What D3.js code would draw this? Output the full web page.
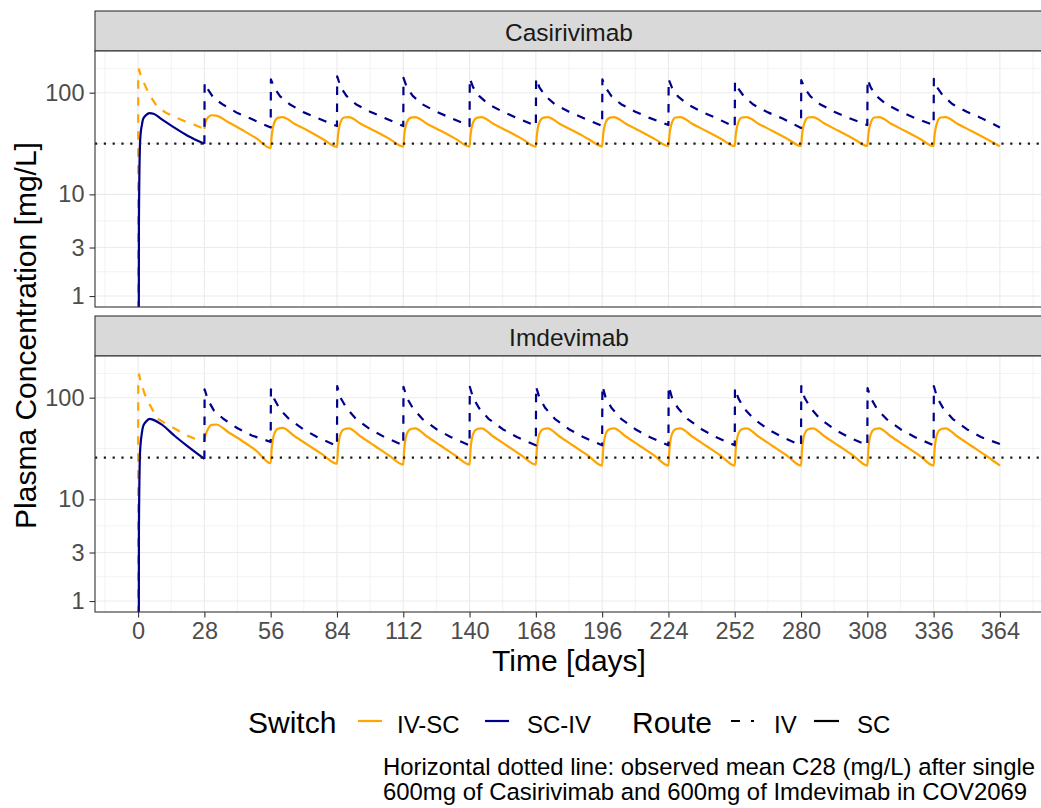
<!DOCTYPE html>
<html>
<head>
<meta charset="utf-8">
<script src="https://cdn.jsdelivr.net/npm/d3@7"></script>
<style>
  body { margin: 0; background: #fff; }
  svg { display: block; font-family: "Liberation Sans", Arial, sans-serif; }
</style>
</head>
<body>
<div class="chart-container"></div>
<script>
// ---- data ----
const panelNames = ['Casirivimab', 'Imdevimab']
const switchNames = ['IV-SC', 'SC-IV']
const routeNames = ['IV', 'SC']
const xTicks = [0, 28, 56, 84, 112, 140, 168, 196, 224, 252, 280, 308, 336, 364]
const yBreaks = [1, 3, 10, 100, 300]
const yLabels = [1, 3, 10, 100]
const c28 = [31.6, 25.7] // observed mean C28 (dotted line)

// dose days after the first dose and the last simulated day
const doseDays = [28, 56, 84, 112, 140, 168, 196, 224, 252, 280, 308, 336]
const lastDay = 364

// days after each repeat dose at which the curves were read
const ivOffsets = [0, 0.1, 1.5, 4, 8, 14, 20]
const scOffsets = [0, 0.4, 1.5, 3, 5, 10, 16, 22]

// first dose, days 0-28
const firstIVDays = [0, 0.05, 0.4, 1, 2.8, 4.5, 8, 12, 16, 20, 24, 28]
const casiFirstIV = [0.5, 150, 170, 150, 120, 98, 73, 63, 57, 52, 48, 44]
const imdeFirstIV = [0.5, 150, 170, 148, 108, 89, 63, 55, 49, 43, 39.5, 37.5]

const firstSCDays = [0.3, 0.35, 0.8, 1.1, 1.6, 2.1, 3.3, 4.9, 6.5, 9.9, 15.5, 21.1, 28]
const casiFirstSC = [0.3, 5.2, 31, 40, 48, 55, 60, 63, 62, 55, 45, 37.5, 31.5]
const imdeFirstSC = [0.3, 5, 28, 36, 45, 52, 58, 62, 60.5, 54.6, 42, 33, 25]

// repeat doses: one row per dose in doseDays
const casiIVRows = [
  [31.5, 125, 108, 88, 76, 63, 55],
  [45.5, 135, 112, 92, 77, 64, 56],
  [47, 145, 114, 93, 77, 65, 56.5],
  [47, 140, 113, 93, 77, 65, 56.5],
  [47, 138, 113, 93, 77, 65, 56.5],
  [47, 138, 113, 93, 77, 65, 56.5],
  [47, 135, 112, 92, 77, 65, 56.5],
  [48, 135, 112, 92, 77, 65, 56.5],
  [46, 128, 110, 91, 76, 64, 56],
  [45, 133, 111, 92, 77, 65, 56.5],
  [48, 135, 112, 92, 77, 65, 56.5],
  [48, 137, 113, 93, 77, 65, 56.5]
]
const casiIVEnd = 45.5

const casiSCRows = [
  [44, 50, 57, 60, 59.5, 51.5, 43, 35.5],
  [28.5, 37, 50.5, 56.5, 57.5, 49.5, 42, 35],
  [29.3, 37.5, 51, 57, 57.5, 49.5, 42, 35.3],
  [29.5, 38, 51, 56.5, 57.5, 49.5, 42, 35.3],
  [29.5, 38, 51, 56.5, 57.5, 49.5, 42, 35.3],
  [29.5, 38, 51, 56.5, 57.5, 49.5, 42, 35.3],
  [29.7, 38, 51, 56.5, 57.5, 49.5, 42, 35.3],
  [29.9, 38, 51, 57, 57.5, 49.5, 42, 35.5],
  [29.9, 38, 51, 57, 57.5, 49.5, 42, 35.5],
  [29.9, 38, 51, 57, 57.5, 49.5, 42, 35.5],
  [29.9, 38, 51, 57, 57.5, 49.5, 42, 35.5],
  [29.9, 38, 51, 57, 57.5, 49.5, 42, 35.5]
]
const casiSCEnd = 29.7

const imdeIVRows = [
  [25, 121, 95, 75, 62, 50, 42.5],
  [36.7, 121, 97, 76, 61, 48.5, 40.5],
  [33.5, 130, 100, 79, 62, 49, 41],
  [34, 128, 100, 79, 62, 49, 41],
  [34, 128, 100, 79, 62, 49, 41],
  [34, 128, 100, 79, 62, 49, 41],
  [34, 130, 100, 79, 62, 49, 41],
  [34, 130, 100, 79, 62, 49, 41],
  [34, 124, 99, 78, 62, 49, 41],
  [34, 130, 100, 79, 62, 49, 41],
  [34, 124, 99, 78, 62, 49, 41],
  [34, 130, 100, 79, 62, 49, 41]
]
const imdeIVEnd = 35

const imdeSCRows = [
  [37.5, 42, 49, 54, 54.5, 46, 37.5, 30],
  [22.7, 31, 44, 49.5, 50.5, 42, 34, 27.5],
  [22.4, 30.5, 44, 49, 50, 41.5, 33.5, 27],
  [22, 30.5, 44, 49, 50, 41.5, 33.5, 27],
  [22, 30.5, 44, 49, 50, 41.5, 33.5, 27],
  [22, 30.5, 44, 49, 50, 41.5, 33.5, 27],
  [21.5, 30.5, 44, 49, 50, 41.5, 33.5, 27],
  [21.5, 30.5, 44, 49, 50, 41.5, 33.5, 27],
  [21.5, 30.5, 44, 49, 50, 41.5, 33.5, 27],
  [21.5, 30.5, 44, 49, 50, 41.5, 33.5, 27],
  [21.5, 30.5, 44, 49, 50, 41.5, 33.5, 27],
  [21.5, 30.5, 44, 49, 50, 41.5, 33.5, 27]
]
const imdeSCEnd = 21.5

const captionLines = [
  'Horizontal dotted line: observed mean C28 (mg/L) after single',
  '600mg of Casirivimab and 600mg of Imdevimab in COV2069'
]

// ---- helpers ----
const zip = (days, vals) => days.map((d, i) => [d, vals[i]])

function cycleSeries(rows, offsets, endValue) {
  const pts = []
  rows.forEach((row, i) => row.forEach((v, j) => pts.push([doseDays[i] + offsets[j], v])))
  pts.push([lastDay, endValue])
  return pts
}

const panels = [
  { name: panelNames[0], c28: c28[0], lines: [
    { sw: 'IV-SC', route: 'IV', pts: zip(firstIVDays, casiFirstIV) },
    { sw: 'IV-SC', route: 'SC', pts: cycleSeries(casiSCRows, scOffsets, casiSCEnd) },
    { sw: 'SC-IV', route: 'SC', pts: zip(firstSCDays, casiFirstSC) },
    { sw: 'SC-IV', route: 'IV', pts: cycleSeries(casiIVRows, ivOffsets, casiIVEnd) }
  ]},
  { name: panelNames[1], c28: c28[1], lines: [
    { sw: 'IV-SC', route: 'IV', pts: zip(firstIVDays, imdeFirstIV) },
    { sw: 'IV-SC', route: 'SC', pts: cycleSeries(imdeSCRows, scOffsets, imdeSCEnd) },
    { sw: 'SC-IV', route: 'SC', pts: zip(firstSCDays, imdeFirstSC) },
    { sw: 'SC-IV', route: 'IV', pts: cycleSeries(imdeIVRows, ivOffsets, imdeIVEnd) }
  ]}
]

// ---- layout ----
const width = 1041, height = 808
const left = 95, right = 1043
const stripH = 40
const panelTops = [51, 356]
const panelH = 256
const lineW = 2.2
const dash = '8.5,8.5'

const colour = d3.scaleOrdinal().domain(switchNames).range(['#FFA500', '#00008B'])
const dashFor = d3.scaleOrdinal().domain(routeNames).range([dash, null])

const pad = (lastDay - 0) * 0.05
const x = d3.scaleLinear().domain([0 - pad, lastDay + pad]).range([left, right])

const xMinor = [xTicks[0] - 14].concat(xTicks.map(d => d + 14))
const yMinor = yBreaks.slice(1).map((b, i) => Math.sqrt(b * yBreaks[i]))

const svg = d3.select('.chart-container').append('svg')
  .attr('width', width).attr('height', height)

panels.forEach((p, pi) => {
  const top = panelTops[pi]
  const bottom = top + panelH
  const y = d3.scaleLog().domain([0.78, 257]).range([bottom, top])

  const g = svg.append('g')

  // strip
  g.append('rect')
    .attr('x', left).attr('y', top - stripH)
    .attr('width', right - left).attr('height', stripH)
    .attr('fill', '#D9D9D9').attr('stroke', '#333').attr('stroke-width', 1.1)
  g.append('text')
    .attr('x', (left + right) / 2).attr('y', top - stripH + 30)
    .attr('text-anchor', 'middle')
    .attr('font-size', 24.5).attr('fill', '#1A1A1A')
    .text(p.name)

  // panel background + grid
  g.append('rect')
    .attr('x', left).attr('y', top).attr('width', right - left).attr('height', panelH)
    .attr('fill', '#fff')

  const clipId = 'clip' + pi
  svg.append('clipPath').attr('id', clipId)
    .append('rect').attr('x', left).attr('y', top).attr('width', right - left).attr('height', panelH)

  const grid = g.append('g').attr('clip-path', `url(#${clipId})`).attr('stroke', '#EBEBEB')
  grid.selectAll('.xminor').data(xMinor).join('line')
    .attr('x1', d => x(d)).attr('x2', d => x(d)).attr('y1', top).attr('y2', bottom)
    .attr('stroke-width', 0.6)
  grid.selectAll('.yminor').data(yMinor).join('line')
    .attr('y1', d => y(d)).attr('y2', d => y(d)).attr('x1', left).attr('x2', right)
    .attr('stroke-width', 0.6)
  grid.selectAll('.xmajor').data(xTicks).join('line')
    .attr('x1', d => x(d)).attr('x2', d => x(d)).attr('y1', top).attr('y2', bottom)
    .attr('stroke-width', 1.1)
  grid.selectAll('.ymajor').data(yBreaks).join('line')
    .attr('y1', d => y(d)).attr('y2', d => y(d)).attr('x1', left).attr('x2', right)
    .attr('stroke-width', 1.1)

  // concentration lines
  const plot = g.append('g').attr('clip-path', `url(#${clipId})`)
  const lineGen = d3.line().x(d => x(d[0])).y(d => y(d[1]))

  plot.selectAll('path.conc')
    .data(p.lines)
    .join('path')
    .attr('class', 'conc')
    .attr('d', d => lineGen.curve(d.route === 'SC' ? d3.curveMonotoneX : d3.curveLinear)(d.pts))
    .attr('fill', 'none')
    .attr('stroke', d => colour(d.sw))
    .attr('stroke-width', lineW)
    .attr('stroke-dasharray', d => dashFor(d.route))
    .attr('stroke-linejoin', 'round')

  // observed C28
  plot.append('line')
    .attr('x1', left).attr('x2', right)
    .attr('y1', y(p.c28)).attr('y2', y(p.c28))
    .attr('stroke', '#1a1a1a').attr('stroke-width', 2.2)
    .attr('stroke-dasharray', '2.2,6.6')

  // border
  g.append('rect')
    .attr('x', left).attr('y', top).attr('width', right - left).attr('height', panelH)
    .attr('fill', 'none').attr('stroke', '#333').attr('stroke-width', 1.1)

  // y axis
  const yAxis = g.append('g')
    .attr('transform', `translate(${left},0)`)
    .call(d3.axisLeft(y).tickValues(yLabels).tickFormat(d3.format('d')).tickSize(5.5).tickPadding(5))
  yAxis.select('.domain').remove()
  yAxis.selectAll('line').attr('stroke', '#333').attr('stroke-width', 1.1)
  yAxis.selectAll('text').attr('font-size', 23.5).attr('fill', '#4D4D4D')
    .attr('font-family', '"Liberation Sans", Arial, sans-serif')

  if (pi === panels.length - 1) {
    const xAxis = g.append('g')
      .attr('transform', `translate(0,${bottom})`)
      .call(d3.axisBottom(x).tickValues(xTicks).tickSize(5.5).tickPadding(5))
    xAxis.select('.domain').remove()
    xAxis.selectAll('line').attr('stroke', '#333').attr('stroke-width', 1.1)
    xAxis.selectAll('text').attr('font-size', 23.5).attr('fill', '#4D4D4D')
      .attr('font-family', '"Liberation Sans", Arial, sans-serif')
  }
})

// axis titles
svg.append('text')
  .attr('x', (left + right) / 2).attr('y', 671)
  .attr('text-anchor', 'middle').attr('font-size', 30)
  .text('Time [days]')

svg.append('text')
  .attr('transform', `translate(36,${(panelTops[0] + panelTops[1] + panelH) / 2 + 4}) rotate(-90)`)
  .attr('text-anchor', 'middle').attr('font-size', 30)
  .text('Plasma Concentration [mg/L]')

// legend
const legY = 721
const legend = svg.append('g')
legend.append('text').attr('x', 248).attr('y', legY + 12).attr('font-size', 30).text('Switch')
const swKeys = [358, 485]
const swLabels = [397, 527]
switchNames.forEach((s, i) => {
  legend.append('line')
    .attr('x1', swKeys[i]).attr('x2', swKeys[i] + 24).attr('y1', legY).attr('y2', legY)
    .attr('stroke', colour(s)).attr('stroke-width', lineW)
  legend.append('text').attr('x', swLabels[i]).attr('y', legY + 12).attr('font-size', 24).text(s)
})
legend.append('text').attr('x', 632).attr('y', legY + 12).attr('font-size', 30).text('Route')
const rtKeys = [731, 814]
const rtLabels = [774, 857]
routeNames.forEach((r, i) => {
  legend.append('line')
    .attr('x1', rtKeys[i]).attr('x2', rtKeys[i] + (r === 'IV' ? 23 : 25)).attr('y1', legY).attr('y2', legY)
    .attr('stroke', '#000').attr('stroke-width', lineW)
    .attr('stroke-dasharray', r === 'IV' ? '9,11' : null)
  legend.append('text').attr('x', rtLabels[i]).attr('y', legY + 12).attr('font-size', 24).text(r)
})

// caption
svg.selectAll('.caption').data(captionLines).join('text')
  .attr('class', 'caption')
  .attr('x', 383).attr('y', (d, i) => 775 + i * 25)
  .attr('font-size', 23.9).attr('fill', '#000')
  .text(d => d)
</script>
</body>
</html>
